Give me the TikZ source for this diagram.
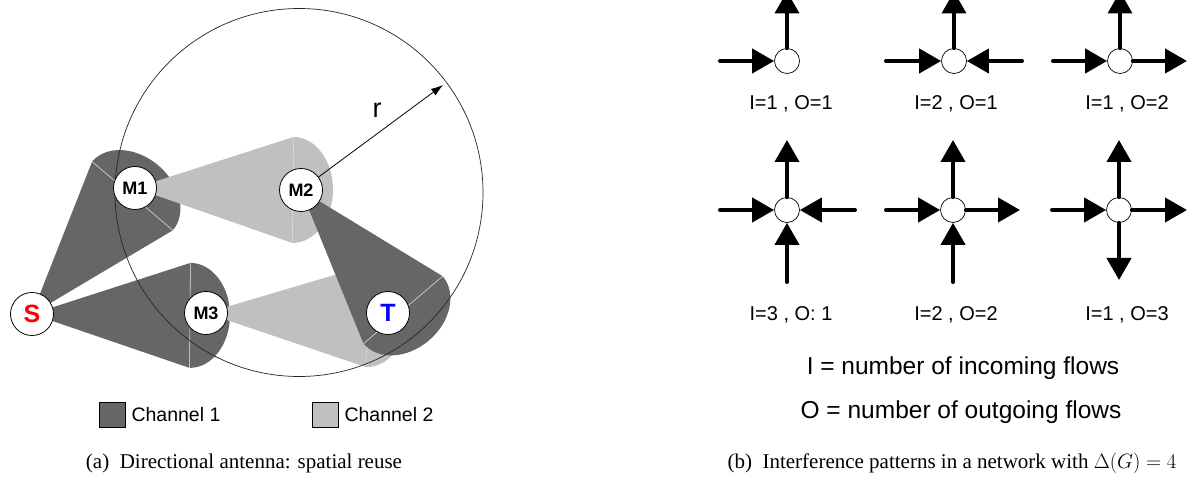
\documentclass[tikz,border=0pt]{standalone}
\usepackage{fontspec}
\setmainfont{Liberation Serif}
\newfontfamily\arialf{Liberation Sans}
\usetikzlibrary{arrows.meta}
\definecolor{chA}{HTML}{666666}
\definecolor{chB}{HTML}{C0C0C0}
\definecolor{baseln}{HTML}{D8D8D8}
\newcommand{\beamdraw}[5]{%
 \begin{scope}[shift={(#1)}, rotate=#2]
   \fill[#5] (0,0) -- (#3,#4) -- (#3,-#4) -- cycle;
   \fill[#5] (#3,#4) arc[start angle=90, end angle=-90, x radius=40pt, y radius=#4pt] -- cycle;
   \draw[baseln, line width=0.6pt] (#3,#4) -- (#3,-#4);
 \end{scope}}
\begin{document}
\begin{tikzpicture}[x=1pt, y=1pt,
  netnode/.style={circle, draw, fill=white, line width=0.8pt, minimum size=43pt, inner sep=0pt, font=\arialf\bfseries\fontsize{18}{20}\selectfont},
  bignode/.style={netnode, font=\arialf\bfseries\fontsize{25}{28}\selectfont},
  pnode/.style={circle, draw, fill=white, line width=0.7pt, minimum size=25pt, inner sep=0pt},
  flow/.style={line width=4pt, line cap=round, -{Triangle[length=22pt, width=24pt]}},
  plabel/.style={font=\arialf\fontsize{20}{22}\selectfont},
  biglabel/.style={font=\arialf\fontsize{24.5}{28}\selectfont},
  legbox/.style={draw, line width=0.6pt, minimum width=26pt, minimum height=25pt, inner sep=0pt},
  legtext/.style={anchor=west, inner sep=0pt, font=\arialf\fontsize{19.5}{22}\selectfont},
  captext/.style={font=\fontsize{21}{24}\selectfont}
]
\useasboundingbox (0,0) rectangle (1198,479);
\clip (0,0) rectangle (1198,479);
\fill[white] (0,0) rectangle (1198,479);

% ---------- (a) ----------
\coordinate (cS) at (32,165);
\coordinate (cM1) at (135,291);
\coordinate (cM2) at (301,289);
\coordinate (cM3) at (206,166);
\coordinate (cT) at (388,166);

\beamdraw{cS}{49.6}{155}{53}{chA}
\beamdraw{cS}{-0.5}{158}{52.5}{chA}
\beamdraw{cM1}{-0.7}{158}{53}{chB}
\beamdraw{cM3}{-1.1}{161}{51}{chB}
\beamdraw{cM2}{-49.6}{157.5}{52}{chA}

\draw[line width=0.7pt, black!85] (299,286.5) circle[radius=184];

\node[bignode, text=red] (S) at (cS) {S};
\node[netnode] (M1) at (cM1) {M1};
\node[netnode] (M2) at (cM2) {M2};
\node[netnode] (M3) at (cM3) {M3};
\node[bignode, text=blue] (T) at (cT) {T};

\coordinate (rtip) at (443,394);
\draw[line width=0.8pt, -{Latex[length=12pt, width=8pt]}] (M2) -- (rtip);
\node[font=\arialf\fontsize{27}{30}\selectfont] (rlab) at (377,369) {r};

\node[legbox, fill=chA] (k1) at (112,64.5) {};
\node[legtext] (k1t) at ([xshift=6pt]k1.east) {Channel 1};
\node[legbox, fill=chB] (k2) at (325,64.5) {};
\node[legtext] (k2t) at ([xshift=6pt]k2.east) {Channel 2};

\node[captext] (capa) at (244,16) {(a)\ \ Directional antenna: spatial reuse};

% ---------- (b) ----------
% row 1
\node[pnode] (p11) at (787,418) {};
\coordinate (p11L) at (720,418);
\coordinate (p11U) at (787,487.5);
\draw[flow] (p11L) -- (p11);
\draw[flow] (p11) -- (p11U);

\node[pnode] (p12) at (954,418) {};
\coordinate (p12L) at (886,418);
\coordinate (p12R) at (1022,418);
\coordinate (p12U) at (954,487.5);
\draw[flow] (p12L) -- (p12);
\draw[flow] (p12R) -- (p12);
\draw[flow] (p12) -- (p12U);

\node[pnode] (p13) at (1120,418) {};
\coordinate (p13L) at (1053,418);
\coordinate (p13R) at (1187,418);
\coordinate (p13U) at (1120,487.5);
\draw[flow] (p13L) -- (p13);
\draw[flow] (p13) -- (p13R);
\draw[flow] (p13) -- (p13U);

% row 2
\node[pnode] (p21) at (787,269) {};
\coordinate (p21L) at (720,269);
\coordinate (p21R) at (855,269);
\coordinate (p21D) at (787,197);
\coordinate (p21U) at (787,339);
\draw[flow] (p21L) -- (p21);
\draw[flow] (p21R) -- (p21);
\draw[flow] (p21D) -- (p21);
\draw[flow] (p21) -- (p21U);

\node[pnode] (p22) at (953,269) {};
\coordinate (p22L) at (886,269);
\coordinate (p22R) at (1020,269);
\coordinate (p22D) at (953,197);
\coordinate (p22U) at (953,339);
\draw[flow] (p22L) -- (p22);
\draw[flow] (p22) -- (p22R);
\draw[flow] (p22D) -- (p22);
\draw[flow] (p22) -- (p22U);

\node[pnode] (p23) at (1119,269) {};
\coordinate (p23L) at (1052,269);
\coordinate (p23R) at (1187,269);
\coordinate (p23D) at (1119,199);
\coordinate (p23U) at (1119,339);
\draw[flow] (p23L) -- (p23);
\draw[flow] (p23) -- (p23R);
\draw[flow] (p23) -- (p23D);
\draw[flow] (p23) -- (p23U);

\node[plabel] (l11) at (791,375) {I=1 , O=1};
\node[plabel] (l12) at (956,375) {I=2 , O=1};
\node[plabel] (l13) at (1127,375) {I=1 , O=2};
\node[plabel] (l21) at (791,164) {I=3 , O: 1};
\node[plabel] (l22) at (956,164) {I=2 , O=2};
\node[plabel] (l23) at (1127,164) {I=1 , O=3};

\node[biglabel] (in) at (963,111) {I = number of incoming flows};
\node[biglabel] (out) at (961,67) {O = number of outgoing flows};

\node[captext] (capb) at (952,16) {(b)\ \ Interference patterns in a network with $\Delta(G) = 4$};
\end{tikzpicture}
\end{document}
